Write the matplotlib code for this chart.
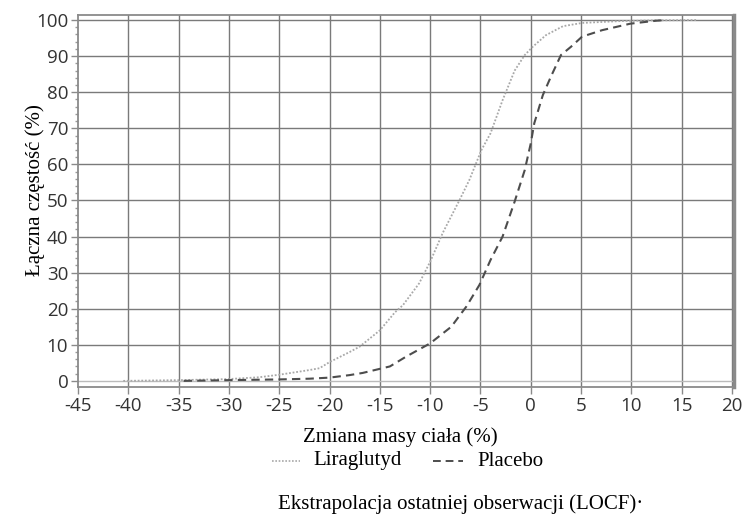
import numpy as np
import matplotlib.pyplot as plt
from matplotlib.lines import Line2D
from matplotlib.ticker import MultipleLocator

# Skumulowany rozkład zmiany masy ciała (%)
lira_x = [-40.5, -35, -30, -27, -25, -22, -21, -20, -18, -17, -15, -13.5, -12.7, -11.1,
          -10, -8.75, -7.1, -6.1, -4.9, -4.0, -2.8, -1.6, -0.6, 0.2, 1.5, 3.2, 5.1, 8.8, 12, 16.5]
lira_y = [0.0, 0.2, 0.5, 1.0, 1.7, 3.0, 3.5, 5.2, 8, 9.5, 14, 19, 21, 27,
          33, 41, 50, 55.7, 64, 68.6, 77.8, 86, 90.3, 92.6, 95.8, 98.3, 99.2, 99.7, 99.9, 100]

plac_x = [-34.5, -30, -25, -22, -20, -18, -16.7, -14, -12.4, -10, -7.9, -6.4, -5.1, -4.0,
          -2.8, -1.6, -0.6, 0.0, 0.35, 1.2, 2.0, 3.0, 4.0, 5.1, 7.1, 9.9, 12.4, 13.4]
plac_y = [0.0, 0.2, 0.4, 0.6, 0.9, 1.6, 2.2, 4, 6.7, 10.4, 15, 20.6, 26.6, 33.5,
          40, 49.7, 58.4, 65.8, 71.4, 79.2, 84.3, 90.3, 92.6, 95.4, 97.2, 99, 99.8, 100]

x_ticks = np.arange(-45, 21, 5)
y_ticks = np.arange(0, 101, 10)

plt.rcParams['axes.unicode_minus'] = False

W, H = 746, 516
fig = plt.figure(figsize=(W / 100, H / 100), dpi=100)
ax = fig.add_axes([78 / W, (H - 387) / H, (734 - 78) / W, (387 - 15) / H])

grid_col = '#7a7a7a'
for v in x_ticks[1:]:
    ax.axvline(v, color=grid_col, lw=1.0, zorder=1)
for v in y_ticks:
    ax.axhline(v, color=grid_col if v > 0 else '#bbbbbb', lw=1.0, zorder=1)

ax.plot(lira_x, lira_y, color='#a8a8a8', lw=1.3, linestyle=(0, (1, 1)), zorder=3)
ax.plot(plac_x, plac_y, color='#4d4d4d', lw=1.5, linestyle=(0, (4, 2.5)), zorder=3)

ax.set_xlim(-45, 20.2)
ax.set_ylim(-1.7, 101.4)
ax.set_xticks(x_ticks)
ax.set_yticks(y_ticks)
ax.yaxis.set_minor_locator(MultipleLocator(2))

for s in ax.spines.values():
    s.set_color('#8a8a8a')
    s.set_linewidth(1.3)
ax.spines['right'].set_linewidth(2.5)

ax.tick_params(axis='both', which='major', direction='out', length=5, width=1,
               color='#8a8a8a', labelcolor='#333333', labelsize=13.5)
ax.tick_params(axis='y', which='minor', direction='out', length=2.5, width=1, color='#9a9a9a')
ax.tick_params(axis='x', pad=2)
ax.tick_params(axis='y', pad=2)
for lab in ax.get_xticklabels() + ax.get_yticklabels():
    lab.set_family('Open Sans')

serif = 'Liberation Serif'
fig.text(35 / W, 1 - 190 / H, 'Łączna częstość (%)', rotation=90, family=serif,
         fontsize=15, ha='center', va='center')
fig.text(400 / W, 1 - 437 / H, 'Zmiana masy ciała (%)', family=serif,
         fontsize=15, ha='center', va='center')

# legenda rysowana ręcznie pod osią X
ly = 1 - 461 / H
fig.add_artist(Line2D([272 / W, 300 / W], [ly, ly], color='#a8a8a8', lw=1.2,
                      linestyle=(0, (1, 1)), transform=fig.transFigure))
fig.text(313 / W, ly, 'Liraglutyd', family=serif, fontsize=15, ha='left', va='center')
fig.add_artist(Line2D([433 / W, 463 / W], [ly, ly], color='#4d4d4d', lw=1.4,
                      linestyle=(0, (4, 2.5)), transform=fig.transFigure))
fig.text(477 / W, ly, 'Placebo', family=serif, fontsize=15, ha='left', va='center')

fig.text(278 / W, 1 - 504 / H, 'Ekstrapolacja ostatniej obserwacji (LOCF)\u00b7', family=serif,
         fontsize=15, ha='left', va='center')

fig.savefig('out.png', dpi=100)
